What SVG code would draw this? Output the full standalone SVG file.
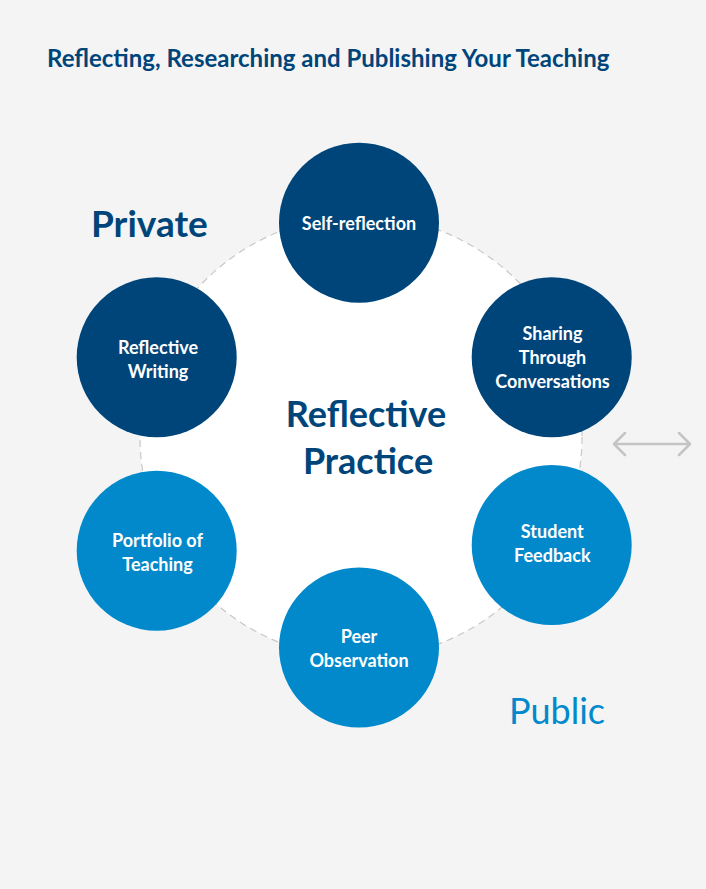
<svg xmlns="http://www.w3.org/2000/svg" width="706" height="889" viewBox="0 0 706 889">
<defs>
<style>
.bg{fill:#f4f4f4}
.ring{fill:#ffffff;stroke:#c8c8c8;stroke-width:1.2;stroke-dasharray:7 5}
.dark{fill:#00457a}
.light{fill:#0189cb}
.lbl{font-family:Lato,"Liberation Sans",sans-serif;font-weight:bold;font-size:18px;fill:#ffffff;text-anchor:middle}
.title{font-family:Lato,"Liberation Sans",sans-serif;font-weight:bold;font-size:24px;fill:#00457a}
.center{font-family:Lato,"Liberation Sans",sans-serif;font-weight:bold;font-size:36px;fill:#00457a;text-anchor:middle}
.arrow{fill:none;stroke:#c4c4c4;stroke-width:2.5;stroke-linecap:round;stroke-linejoin:round}
</style>
</defs>
<rect class="bg" x="0" y="0" width="706" height="889"/>
<text class="title" x="47" y="67">Reflecting, Researching and Publishing Your Teaching</text>
<g id="ring">
<circle class="ring" cx="361" cy="437" r="221"/>
</g>
<g id="center">
<text class="center" x="366" y="427">Reflective</text>
<text class="center" x="368" y="474">Practice</text>
</g>
<text id="private" x="91" y="237" font-family="Lato,'Liberation Sans',sans-serif" font-weight="bold" font-size="37" fill="#00457a">Private</text>
<text id="public" x="509" y="724" font-family="Lato,'Liberation Sans',sans-serif" font-size="36" fill="#0189cb">Public</text>
<g id="connectors">
<path class="arrow" d="M614 444 H690 M625 433 L614 444 L625 455 M679 433 L690 444 L679 455"/>
</g>
<g id="self-reflection">
<circle class="dark" cx="359" cy="222.7" r="80"/>
<text class="lbl" x="359" y="230">Self-reflection</text>
</g>
<g id="sharing">
<circle class="dark" cx="551.7" cy="357.3" r="80"/>
<text class="lbl" x="552.5" y="340">Sharing</text>
<text class="lbl" x="552.5" y="364">Through</text>
<text class="lbl" x="552.5" y="388">Conversations</text>
</g>
<g id="student-feedback">
<circle class="light" cx="551.7" cy="545" r="80"/>
<text class="lbl" x="552.3" y="538">Student</text>
<text class="lbl" x="552.3" y="562">Feedback</text>
</g>
<g id="peer-observation">
<circle class="light" cx="359" cy="647.5" r="80"/>
<text class="lbl" x="359" y="643">Peer</text>
<text class="lbl" x="359" y="667">Observation</text>
</g>
<g id="portfolio">
<circle class="light" cx="156.7" cy="550.7" r="80"/>
<text class="lbl" x="157.5" y="547">Portfolio of</text>
<text class="lbl" x="157.5" y="571">Teaching</text>
</g>
<g id="reflective-writing">
<circle class="dark" cx="156.7" cy="357.3" r="80"/>
<text class="lbl" x="158" y="354">Reflective</text>
<text class="lbl" x="158" y="378">Writing</text>
</g>
</svg>
